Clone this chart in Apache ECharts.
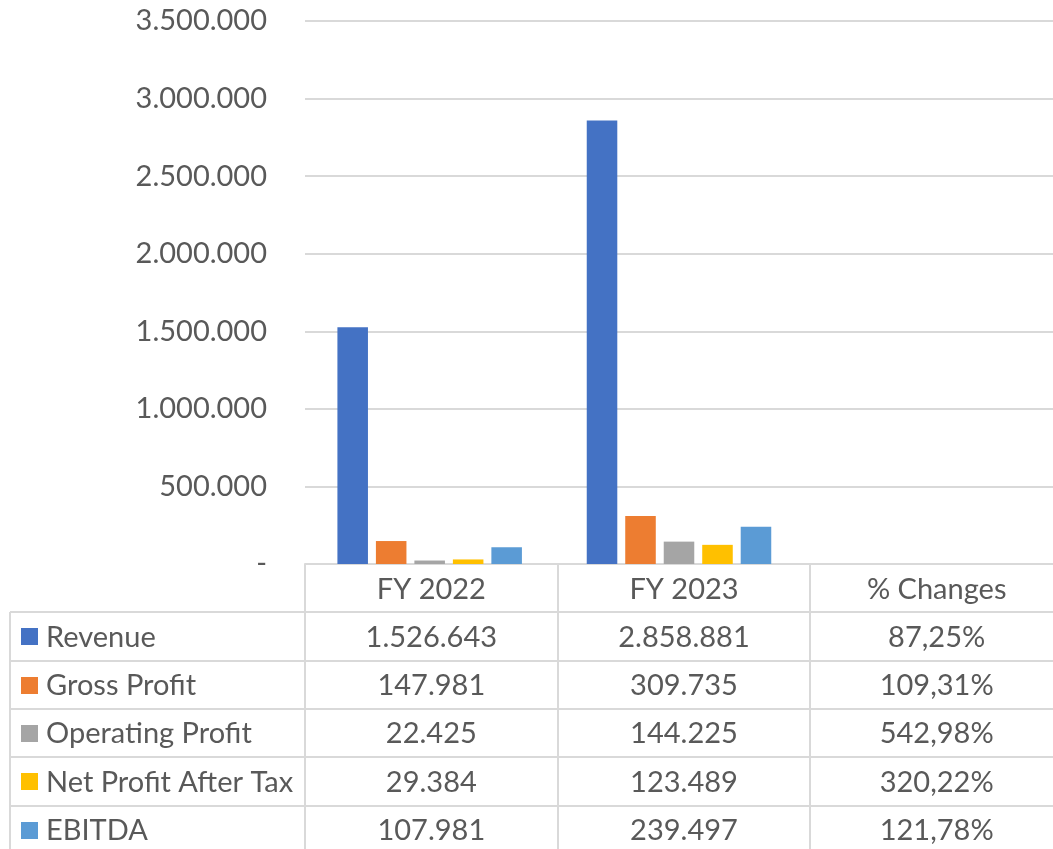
<!DOCTYPE html>
<html>
<head>
<meta charset="utf-8">
<script src="https://cdn.jsdelivr.net/npm/echarts@6/dist/echarts.min.js"></script>
<style>
  html, body { margin: 0; padding: 0; background: #fff; overflow: hidden; }
  #MyChart { width: 1053px; height: 849px; }
</style>
</head>
<body>
<div id="MyChart"></div>
<script>
// categories and series
var categories = ['FY 2022', 'FY 2023', '% Changes'];
var seriesNames = ['Revenue', 'Gross Profit', 'Operating Profit', 'Net Profit After Tax', 'EBITDA'];
var fy2022 = [1526643, 147981, 22425, 29384, 107981];
var fy2023 = [2858881, 309735, 144225, 123489, 239497];
var pctChanges = ['87,25%', '109,31%', '542,98%', '320,22%', '121,78%'];
var colorList = ['#4472C4', '#ED7D31', '#A5A5A5', '#FFC000', '#5B9BD5'];
var yMax = 3500000;
var yStep = 500000;

var FONT = 'Lato';
var TXT = '#595959';
var LINE = '#D9D9D9';
var FS = 29;

// layout of plot + table (plot runs a bit past the right edge, like the cropped original)
var gridLeft = 305, gridRight = -10, gridTop = 21, axisY = 564, rowH = 48.3, W = 1053, H = 849;
var tableLeft = 10;

// 1.234.567 style
function fmtNum(v) {
    if (v === 0) return '-';
    return String(v).replace(/\B(?=(\d{3})+(?!\d))/g, '.');
}

var myChart = echarts.init(document.getElementById('MyChart'));

var series = [];
for (var i = 0; i < seriesNames.length; i++) {
    series.push({
        name: seriesNames[i],
        type: 'bar',
        barGap: '26%',
        barCategoryGap: '26%',
        itemStyle: { color: colorList[i] },
        data: [fy2022[i], fy2023[i], null]
    });
}

// table drawn as graphic lines + texts
function buildTable() {
    var els = [];
    var colW = (W - gridRight - gridLeft) / categories.length;
    function hline(x1, x2, y) {
        els.push({ type: 'line', silent: true, shape: { x1: x1, y1: y, x2: x2, y2: y }, style: { stroke: LINE, lineWidth: 2 } });
    }
    function vline(x, y1, y2) {
        els.push({ type: 'line', silent: true, shape: { x1: x, y1: y1, x2: x, y2: y2 }, style: { stroke: LINE, lineWidth: 2 } });
    }
    function text(t, x, y, align) {
        els.push({ type: 'text', silent: true, x: x, y: y, style: { text: t, fill: TXT, font: FS + 'px ' + FONT, align: align, verticalAlign: 'middle' } });
    }
    // row lines
    for (var r = 1; r <= seriesNames.length; r++) {
        hline(tableLeft, W, Math.round(axisY + r * rowH));
    }
    // column lines
    vline(tableLeft, Math.round(axisY + rowH), H);
    for (var c = 0; c < categories.length; c++) {
        vline(Math.round(gridLeft + c * colW), axisY, H);
    }
    // header
    for (var c = 0; c < categories.length; c++) {
        text(categories[c], gridLeft + (c + 0.5) * colW, axisY + rowH / 2 + 1, 'center');
    }
    // rows
    for (var r = 0; r < seriesNames.length; r++) {
        var cy = axisY + (r + 1.5) * rowH + 1;
        els.push({ type: 'rect', silent: true, shape: { x: 21, y: Math.round(cy - 9), width: 17, height: 17 }, style: { fill: colorList[r] } });
        text(seriesNames[r], 46, cy, 'left');
        text(fmtNum(fy2022[r]), gridLeft + 0.5 * colW, cy, 'center');
        text(fmtNum(fy2023[r]), gridLeft + 1.5 * colW, cy, 'center');
        text(pctChanges[r], gridLeft + 2.5 * colW, cy, 'center');
    }
    return els;
}

var option = {
    animation: false,
    textStyle: { fontFamily: FONT },
    grid: { left: gridLeft, right: gridRight, top: gridTop, bottom: H - axisY },
    xAxis: {
        type: 'category',
        data: categories,
        axisLine: { show: true, lineStyle: { color: LINE, width: 2 } },
        axisTick: { show: false },
        axisLabel: { show: false },
        splitLine: { show: false }
    },
    yAxis: {
        type: 'value',
        min: 0,
        max: yMax,
        interval: yStep,
        axisLine: { show: false },
        axisTick: { show: false },
        axisLabel: { color: TXT, fontSize: FS, fontFamily: FONT, margin: 38, formatter: fmtNum },
        splitLine: { lineStyle: { color: LINE, width: 2 } }
    },
    series: series,
    graphic: buildTable()
};
myChart.setOption(option);
</script>
</body>
</html>
